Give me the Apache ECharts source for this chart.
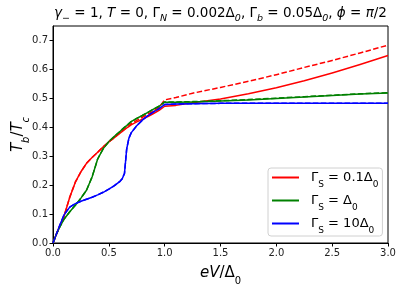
<!DOCTYPE html>
<html><head><meta charset="utf-8">
<script src="https://cdn.jsdelivr.net/npm/echarts@6/dist/echarts.min.js"></script>
<style>html,body{margin:0;padding:0;background:#fff}#c{width:402px;height:290px}</style>
</head><body><div id="c"></div>
<script>
const eV = [0,0.03,0.06,0.1,0.15,0.2,0.25,0.3,0.35,0.4,0.45,0.5,0.55,0.6,0.62,0.64,0.66,0.68,0.7,0.75,0.8,0.85,0.9,0.95,1.0,1.1,1.25,1.5,1.75,2.0,2.25,2.5,2.75,3.0];
const redSolid   = [0,0.03,0.058,0.094,0.158,0.21,0.246,0.275,0.295,0.313,0.332,0.349,0.364,0.379,0.385,0.391,0.397,0.402,0.408,0.418,0.427,0.436,0.447,0.458,0.472,0.475,0.484,0.497,0.515,0.536,0.56,0.587,0.616,0.647];
const redDashed  = [0,0.03,0.058,0.094,0.158,0.21,0.246,0.275,0.295,0.313,0.332,0.349,0.364,0.38,0.386,0.393,0.399,0.405,0.412,0.423,0.434,0.445,0.456,0.468,0.494,0.502,0.517,0.537,0.558,0.581,0.606,0.63,0.656,0.683];
const greenSolid = [0,0.03,0.055,0.083,0.108,0.13,0.155,0.182,0.228,0.29,0.326,0.35,0.368,0.385,0.392,0.399,0.405,0.412,0.419,0.43,0.44,0.451,0.462,0.472,0.486,0.486,0.487,0.49,0.494,0.499,0.504,0.509,0.514,0.518];
const greenDashed = [0,0.03,0.055,0.083,0.108,0.13,0.155,0.182,0.228,0.29,0.326,0.35,0.368,0.385,0.392,0.399,0.405,0.412,0.419,0.43,0.44,0.451,0.462,0.472,0.487,0.487,0.488,0.491,0.495,0.5,0.505,0.51,0.515,0.519];
const blueSolid  = [0,0.03,0.06,0.098,0.124,0.136,0.144,0.151,0.158,0.166,0.175,0.186,0.198,0.213,0.222,0.24,0.325,0.362,0.38,0.405,0.424,0.44,0.453,0.464,0.478,0.48,0.481,0.482,0.482,0.482,0.482,0.482,0.482,0.482];
const blueDashed = blueSolid.slice();
const xTicks = [0,0.5,1.0,1.5,2.0,2.5,3.0];
const yTicks = [0,0.1,0.2,0.3,0.4,0.5,0.6,0.7];
const legendNames = ['{g|Γ}{sub|S}{g| = 0.1Δ}{sub|0}','{g|Γ}{sub|S}{g| = Δ}{sub|0}','{g|Γ}{sub|S}{g| = 10Δ}{sub|0}'];

const pts = arr => eV.map((x,i)=>[x,arr[i]]);
const FONT = 'DejaVu Sans';
function mk(name, data, color, dashed){
  return {name:name, type:'line', data:pts(data), symbol:'none', smooth:false,
    lineStyle:{color:color,width:1.5,type:dashed?[5.5,2.4]:'solid',join:'round'}, itemStyle:{color:color},
    animation:false, z:dashed?3:2};
}
const chart = echarts.init(document.getElementById('c'), null, {renderer:'canvas'});
chart.setOption({
  animation:false,
  grid:{left:53,right:14,top:26,bottom:47,show:true,borderColor:'#000',borderWidth:1,backgroundColor:'transparent',outerBoundsMode:'none',containLabel:false},
  xAxis:{type:'value',min:0,max:3,interval:0.5,
    name:'{i|eV}/Δ{sub|0}',nameLocation:'middle',nameGap:23,nameMoveOverlap:false,
    nameTextStyle:{fontFamily:FONT,fontSize:15,color:'#000',
      rich:{i:{fontFamily:FONT,fontSize:15,fontStyle:'italic',color:'#000'},sub:{fontFamily:FONT,fontSize:10,color:'#000',verticalAlign:'bottom',padding:[0,0,-5,0]}}},
    axisLine:{show:true,lineStyle:{color:'#000',width:1}},
    axisTick:{show:true,length:3.5,lineStyle:{color:'#000'}},
    splitLine:{show:false},
    axisLabel:{fontFamily:FONT,fontSize:10,color:'#222',margin:5,formatter:v=>xTicks.includes(v)?v.toFixed(1):''}},
  yAxis:{type:'value',min:0,max:0.749,interval:0.1,
    name:'{i|T}{sub|b}/{i|T}{sub|c}',nameLocation:'middle',nameRotate:90,nameGap:27,nameMoveOverlap:false,
    nameTextStyle:{fontFamily:FONT,fontSize:15,color:'#000',
      rich:{i:{fontFamily:FONT,fontSize:15,fontStyle:'italic',color:'#000'},sub:{fontFamily:FONT,fontSize:10,fontStyle:'italic',color:'#000',verticalAlign:'bottom',padding:[0,0,-5,0]}}},
    axisLine:{show:true,lineStyle:{color:'#000',width:1}},
    axisTick:{show:true,length:3.5,lineStyle:{color:'#000'}},
    splitLine:{show:false},
    axisLabel:{fontFamily:FONT,fontSize:10,color:'#222',margin:5,showMaxLabel:false,formatter:v=>yTicks.some(t=>Math.abs(t-v)<1e-6)?v.toFixed(1):''}},
  legend:{left:268,top:168,orient:'vertical',icon:'rect',itemWidth:27,itemHeight:2,itemGap:5,
    padding:[3,4,1,4],
    backgroundColor:'rgba(255,255,255,0.8)',borderColor:'#d0d0d0',borderWidth:1,borderRadius:3,
    data:[0,1,2].map(i=>({name:legendNames[i]})),
    textStyle:{fontFamily:FONT,fontSize:13,color:'#000',padding:[0,0,0,7],
      rich:{g:{fontFamily:FONT,fontSize:13,color:'#000'},sub:{fontFamily:FONT,fontSize:9,color:'#000',verticalAlign:'bottom',padding:[0,0,-5,0]}}}},
  series:[
    mk(legendNames[0],redSolid,'#ff0000',false),
    mk('rd',redDashed,'#ff0000',true),
    mk(legendNames[1],greenSolid,'#008000',false),
    mk('gd',greenDashed,'#008000',true),
    mk(legendNames[2],blueSolid,'#0000ff',false),
    mk('bd',blueDashed,'#0000ff',true)
  ],
  graphic:[
    {type:'text',x:220.5,y:13,style:{
      text:'{i|γ}{s|−} = 1, {i|T} = 0, Γ{sub|N} = 0.002Δ{sub|0}, Γ{sub|b} = 0.05Δ{sub|0}, {i|ϕ} = {i|π}/2',
      align:'center',verticalAlign:'middle',
      fontFamily:FONT,fontSize:13.5,fill:'#000',
      rich:{i:{fontFamily:FONT,fontSize:13.5,fontStyle:'italic'},s:{fontFamily:FONT,fontSize:9.5,verticalAlign:'bottom',padding:[0,0,-4,0]},
            sub:{fontFamily:FONT,fontSize:9.5,fontStyle:'italic',verticalAlign:'bottom',padding:[0,0,-4,0]}}}}
  ]
});
</script></body></html>
